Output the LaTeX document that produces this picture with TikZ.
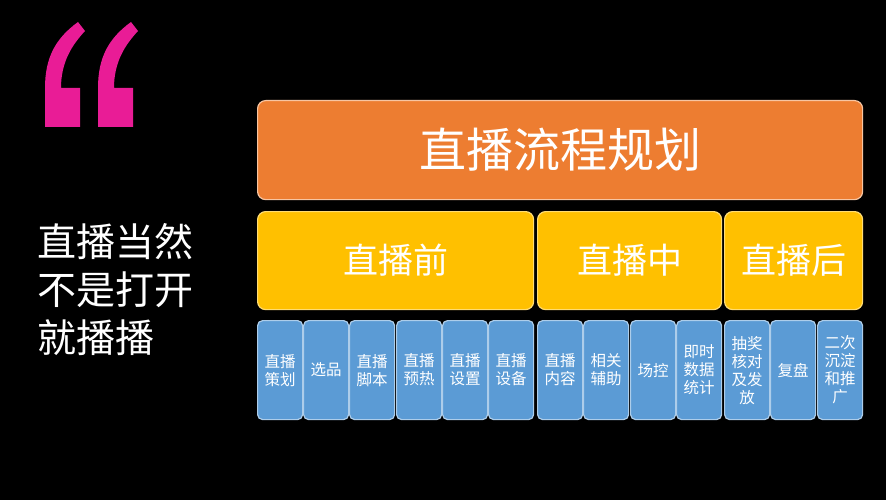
\documentclass[tikz,border=0pt]{standalone}
\usepackage{fontspec}
\setmainfont{Noto Sans CJK SC}
\definecolor{quotepink}{RGB}{233,28,150}
\definecolor{planorange}{RGB}{237,125,49}
\definecolor{stageyellow}{RGB}{255,192,0}
\definecolor{taskblue}{RGB}{91,155,213}
\tikzset{
  planbox/.style={draw=white!55!planorange,fill=planorange,line width=1.2pt,rounded corners=8pt,
    anchor=north west,minimum width=605pt,minimum height=99pt,text=white,font=\fontsize{47}{52}\selectfont},
  stagebox/.style={draw=white!45!stageyellow,fill=stageyellow,line width=1.2pt,rounded corners=8pt,
    anchor=north west,minimum height=98pt,text=white,font=\fontsize{35}{40}\selectfont},
  taskbox/.style={draw=white!50!taskblue,fill=taskblue,line width=1.2pt,rounded corners=5pt,
    anchor=north west,minimum width=45pt,minimum height=99pt,inner sep=1pt,align=center,
    text=white,font=\fontsize{15.5}{18}\selectfont}
}
\begin{document}
\begin{tikzpicture}[x=1pt,y=-1pt]
  \fill[black] (0,0) rectangle (886,500);

  % quote mark
  \foreach \dx in {0,53}
    \fill[quotepink,shift={(\dx,0)}] (45,127) -- (45,88) .. controls (45,57) and (56,38) .. (78,22)
      -- (85,31) .. controls (72,45) and (61,62) .. (61,88) -- (80,88) -- (80,127) -- cycle;

  \node[anchor=west,align=left,text=white,font=\fontsize{39}{48}\selectfont] (slogan) at (34,290)
    {直播当然\\不是打开\\就播播};

  \node[planbox] (plan) at (257,100) {直播流程规划};

  \node[stagebox,minimum width=276pt] (before) at (257,211) {直播前};
  \node[stagebox,minimum width=184pt] (during) at (537,211) {直播中};
  \node[stagebox,minimum width=138pt] (after) at (724,211) {直播后};

  \foreach \x/\txt [count=\i] in {257/{直播\\策划},303/{选品},349/{直播\\脚本},396/{直播\\预热},
      442/{直播\\设置},488/{直播\\设备},537/{直播\\内容},583/{相关\\辅助},630/{场控},
      676/{即时\\数据\\统计},724/{抽奖\\核对\\及发\\放},770/{复盘},817/{二次\\沉淀\\和推\\广}}
    \node[taskbox] (task\i) at (\x,320) {\txt};
\end{tikzpicture}
\end{document}
